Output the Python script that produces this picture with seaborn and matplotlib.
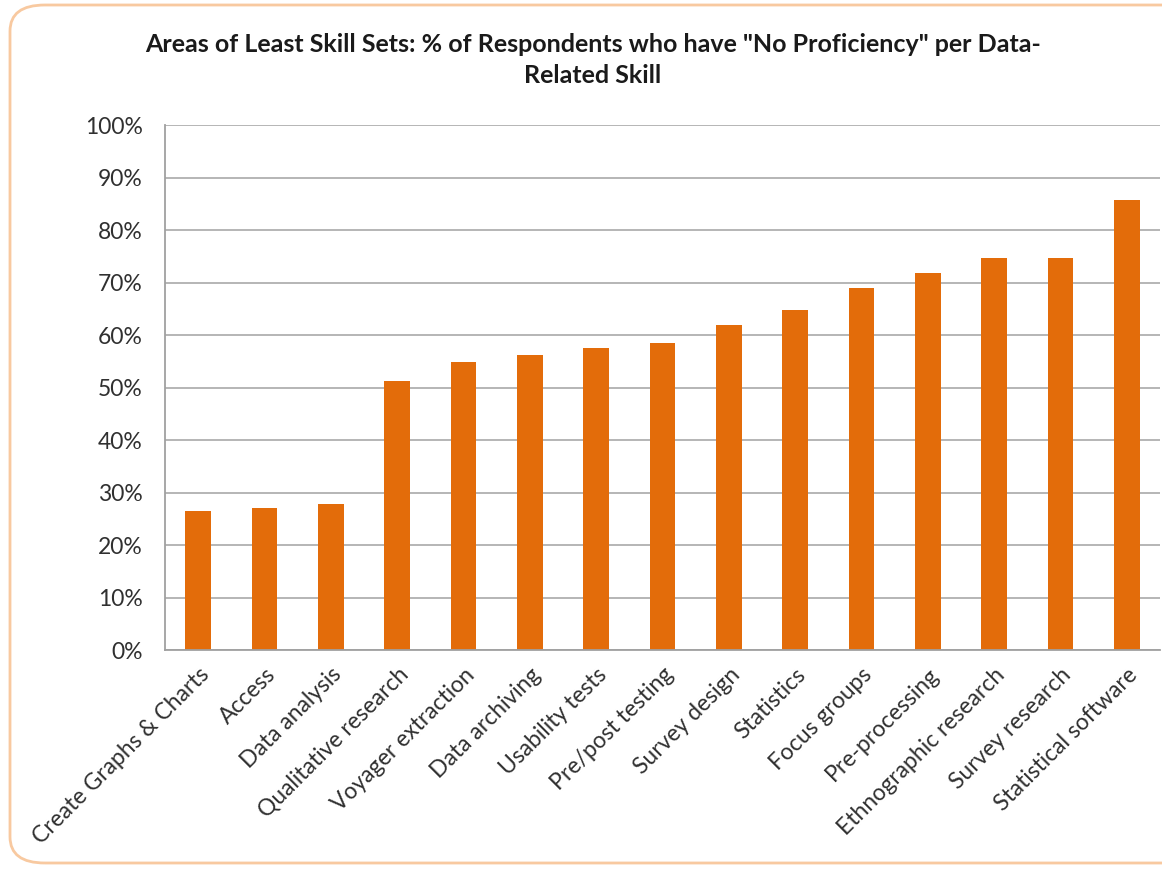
import matplotlib
matplotlib.use("Agg")
import matplotlib.pyplot as plt
import seaborn as sns
import pandas as pd
from matplotlib.patches import FancyBboxPatch
from matplotlib.ticker import FuncFormatter, MultipleLocator, FixedLocator

skills = ["Create Graphs & Charts", "Access", "Data analysis", "Qualitative research",
          "Voyager extraction", "Data archiving", "Usability tests", "Pre/post testing",
          "Survey design", "Statistics", "Focus groups", "Pre-processing",
          "Ethnographic research", "Survey research", "Statistical software"]
pct_no_proficiency = [26.5, 27.0, 27.9, 51.3, 54.9, 56.2, 57.6, 58.5,
                      62.0, 64.7, 68.9, 71.8, 74.6, 74.6, 85.8]
title = 'Areas of Least Skill Sets: % of Respondents who have "No Proficiency" per Data-\nRelated Skill'

sns.set_theme(style="white")
plt.rcParams['font.family'] = ['Lato', 'DejaVu Sans']

df = pd.DataFrame({"skill": skills, "pct": pct_no_proficiency})

fig = plt.figure(figsize=(11.62, 8.71), dpi=100)
ax = fig.add_axes([165/1162, 1 - 650/871, (1160-165)/1162, (650-125)/871])

sns.barplot(data=df, x="skill", y="pct", color="#E36C0A", saturation=1,
            width=0.39, ax=ax, edgecolor="none")

ax.set_xlim(-0.5, len(skills) - 0.5)
ax.set_ylim(0, 100)
ax.yaxis.set_major_locator(MultipleLocator(10))
ax.yaxis.set_major_formatter(FuncFormatter(lambda v, p: f"{v:.0f}%"))
ax.grid(axis="y", color="#B0B0B0", linewidth=1.3)
ax.set_axisbelow(True)
for s in ["top", "right"]:
    ax.spines[s].set_visible(False)
for s in ["left", "bottom"]:
    ax.spines[s].set_color("#A0A0A0")
    ax.spines[s].set_linewidth(1.3)

ax.set_xlabel("")
ax.set_ylabel("")
ax.tick_params(axis="x", which="major", length=0, pad=10)
ax.xaxis.set_minor_locator(FixedLocator([i - 0.5 for i in range(len(skills) + 1)]))
ax.tick_params(axis="x", which="minor", length=6, width=1.2, color="#A0A0A0", direction="out")
ax.tick_params(axis="y", which="major", length=6, width=1.2, color="#A0A0A0", direction="out", pad=10)
ax.set_xticks(range(len(skills)))
ax.set_xticklabels(skills, rotation=45, ha="right", rotation_mode="anchor",
                   fontsize=16.5, color="#303030")
for lbl in ax.get_yticklabels():
    lbl.set_fontsize(16.5)
    lbl.set_color("#303030")

fig.text(0.51, 1 - 60/871, title, ha="center", va="center", fontsize=18,
         fontweight="bold", color="#1a1a1a", linespacing=1.4)

border = FancyBboxPatch((10/1162, 8/871), 1.2, 858/871,
                        boxstyle="round,pad=0,rounding_size=0.03",
                        transform=fig.transFigure, fill=False,
                        edgecolor="#F8C9A0", linewidth=2, clip_on=False)
fig.patches.append(border)

fig.savefig("out.png", dpi=100)
